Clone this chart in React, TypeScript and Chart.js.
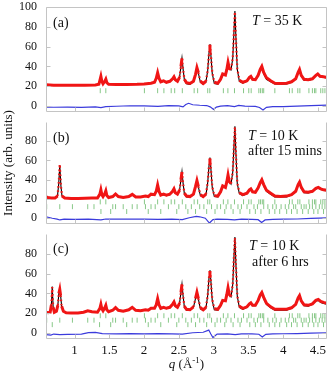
import React, { useEffect, useRef } from "react";
import { Chart, registerables } from "chart.js";

Chart.register(...registerables);

const FONT = '"Liberation Serif", "Times New Roman", Times, serif';

// ---- axes ----
const qRange = [0.59, 4.63];
const yRange = [-6, 100];
const qTickValues = [1, 1.5, 2, 2.5, 3, 3.5, 4, 4.5];
const yTickValuesA = [0, 20, 40, 60, 80, 100];
const yTickValuesBC = [0, 20, 40, 60, 80];

// ---- panel (a) T = 35 K ----
const qA = [
  0.59, 0.7, 0.85, 1.0, 1.15, 1.3, 1.35, 1.365, 1.379, 1.393,
  1.41, 1.435, 1.45, 1.465, 1.49, 1.6, 1.75, 1.9, 2.0, 2.1,
  2.15, 2.175, 2.195, 2.215, 2.24, 2.28, 2.32, 2.37, 2.41, 2.43,
  2.45, 2.48, 2.51, 2.53, 2.545, 2.56, 2.58, 2.61, 2.66, 2.71,
  2.74, 2.76, 2.78, 2.81, 2.85, 2.89, 2.915, 2.935, 2.947, 2.96,
  2.98, 3.01, 3.06, 3.1, 3.13, 3.17, 3.19, 3.207, 3.225, 3.25,
  3.275, 3.292, 3.306, 3.32, 3.34, 3.37, 3.42, 3.48, 3.515, 3.535,
  3.56, 3.6, 3.64, 3.67, 3.693, 3.72, 3.76, 3.82, 3.88, 3.96,
  4.05, 4.12, 4.18, 4.215, 4.235, 4.26, 4.3, 4.36, 4.42, 4.47,
  4.497, 4.53, 4.58, 4.63,
];
const obsA = [
  21.5, 21, 21, 21, 21, 21.3, 22, 26, 30, 25,
  22.5, 25, 27.2, 23.5, 22, 21.8, 21.8, 22, 22.3, 23,
  24, 28, 33.7, 28, 24.5, 25.5, 24, 25, 27.5, 29.5,
  26.5, 25, 29, 40, 48, 38, 27, 23.5, 22.8, 25,
  32, 38.8, 34, 25, 22.8, 25, 36, 55, 61.8, 52,
  34, 24, 23, 27, 32.4, 31.4, 37, 44, 38, 37,
  48, 75, 95, 70, 38, 26, 24, 25.5, 29, 30,
  27, 26.6, 31, 37, 40, 34, 28.5, 25.5, 23, 22.8,
  23, 24.5, 27.5, 34, 37, 31, 27, 26.5, 27.5, 31,
  32.4, 30, 29.5, 28.8,
];
const calcA = [
  21.5, 21, 21, 21, 21, 21.3, 22, 26, 30, 25,
  22.5, 25, 27.2, 23.5, 22, 21.8, 21.8, 22, 22.3, 23,
  24, 28, 34, 28, 24, 25, 23.5, 24.5, 27.5, 29.5,
  26, 24.5, 29, 40, 48.5, 38, 26, 22.5, 21.8, 24.5,
  32, 39, 33.5, 24, 22, 24.5, 36, 55, 62.5, 52,
  33, 22.8, 22.2, 26.5, 32, 31, 37, 44, 38, 36.5,
  48, 75, 96, 70, 37, 25, 23.2, 25, 29, 30,
  26.5, 26, 30.5, 37, 40.5, 32.5, 27, 24.5, 22.2, 22,
  22.2, 24, 27.5, 34, 37, 30, 26.2, 25.8, 27, 31,
  32, 29.5, 28.8, 28.5,
];
const qDiffA = [0.59, 0.7, 0.9, 1.1, 1.3, 1.38, 1.45, 1.6, 1.8, 2.0, 2.2, 2.35, 2.5, 2.56, 2.6, 2.64, 2.7, 2.8, 2.9, 2.95, 3.0, 3.04, 3.1, 3.2, 3.3, 3.36, 3.45, 3.6, 3.66, 3.71, 3.76, 3.85, 4.0, 4.2, 4.4, 4.63];
const diffA = [-1, -1.2, -1, -1.3, -0.8, -1.5, -0.5, -0.2, 0.3, 0.2, -0.3, 0.5, 0.2, -0.8, 1.5, 2.8, 1.3, 0.8, 0.5, -0.8, -3.5, -1, 0, 0.5, -0.6, 0.6, 0, -0.4, -1.5, -4, -1.3, -0.5, -0.6, 0, 0.5, 1];

// ---- panel (b) T = 10 K after 15 mins ----
const qB = [
  0.59, 0.62, 0.66, 0.72, 0.755, 0.772, 0.788, 0.804, 0.82, 0.86,
  0.95, 1.05, 1.15, 1.25, 1.33, 1.365, 1.379, 1.393, 1.41, 1.435,
  1.45, 1.465, 1.49, 1.55, 1.59, 1.63, 1.7, 1.78, 1.83, 1.88,
  1.95, 2.02, 2.06, 2.1, 2.15, 2.175, 2.195, 2.215, 2.24, 2.28,
  2.32, 2.37, 2.41, 2.43, 2.45, 2.48, 2.51, 2.53, 2.545, 2.56,
  2.58, 2.61, 2.66, 2.71, 2.74, 2.76, 2.78, 2.81, 2.85, 2.89,
  2.915, 2.935, 2.947, 2.96, 2.98, 3.01, 3.06, 3.1, 3.13, 3.17,
  3.19, 3.207, 3.225, 3.25, 3.275, 3.292, 3.306, 3.32, 3.34, 3.37,
  3.42, 3.48, 3.515, 3.535, 3.56, 3.6, 3.64, 3.67, 3.693, 3.72,
  3.76, 3.82, 3.88, 3.96, 4.05, 4.12, 4.18, 4.215, 4.235, 4.26,
  4.3, 4.36, 4.42, 4.47, 4.505, 4.54, 4.58, 4.63,
];
const obsB = [
  22, 21.5, 21, 21, 23, 35, 56, 34, 23, 21,
  20.5, 20.5, 20.7, 21, 21, 25, 29.5, 24.5, 22.5, 25.5,
  28.5, 23.5, 21.5, 22.5, 25.2, 22.5, 21.5, 22.5, 24.8, 22,
  22, 23, 22.5, 25, 24.5, 28, 34.6, 28, 24, 25,
  24, 25, 28, 30.5, 26.5, 25, 29, 40, 48, 37,
  26, 23, 22.5, 25, 33, 39, 33, 24.5, 22.5, 25,
  37, 56, 62, 52, 33, 23.5, 23, 27.5, 33.6, 32,
  38, 45, 38, 36, 48, 75, 94.6, 68, 37, 26.5,
  24.5, 26, 29.5, 30.5, 27.5, 27, 31.5, 37, 40, 35,
  29, 26, 23, 22.5, 23, 24.5, 28, 35, 37.5, 32,
  27.5, 27, 28, 31, 32, 30.5, 29.5, 29,
];
const calcB = [
  22, 21.5, 21, 21, 23, 35, 55, 34, 23, 21,
  20.5, 20.5, 20.7, 21, 21, 25, 29.5, 24.5, 22.5, 25.5,
  28.5, 23.5, 21.5, 22.5, 25.2, 22.5, 21.5, 22.5, 24.8, 22,
  22, 23, 22.5, 25, 24.5, 28, 34.6, 28, 23.5, 24.5,
  23.5, 24.5, 28, 30.5, 26, 24.5, 29, 40, 48.5, 37,
  25, 22, 21.8, 24.5, 33, 39.5, 32.5, 23.5, 22, 24.5,
  37, 56, 63, 52, 32, 22.5, 22.2, 27, 33.6, 31.5,
  38, 45.5, 38, 35.5, 48, 75, 95.5, 68, 36, 25.5,
  23.5, 25.5, 29.5, 30.5, 27, 26.5, 31, 37, 40.5, 33.5,
  28, 25, 22.2, 22, 22.2, 24, 28, 35, 38, 31,
  26.5, 26.2, 27.5, 30.5, 31.5, 30, 28.8, 28.5,
];
const qDiffB = [0.59, 0.62, 0.68, 0.75, 0.79, 0.85, 1.0, 1.2, 1.38, 1.45, 1.6, 1.8, 2.0, 2.2, 2.4, 2.55, 2.65, 2.75, 2.8, 2.88, 2.94, 2.99, 3.05, 3.2, 3.3, 3.4, 3.55, 3.64, 3.69, 3.74, 3.85, 4.0, 4.2, 4.4, 4.63];
const diffB = [1.5, 1, 0, -1, -1.8, -1, -1.2, -1, -1.8, -0.8, -1, -0.8, -1, -1.2, -1, -1.5, 0.5, 1.9, 1.5, 0, -5, -1.5, -1, -1.2, -1.8, -1, -1.2, -1.5, -4.5, -1.8, -1.2, -1, -0.8, -0.2, 0.3];

// ---- panel (c) T = 10 K after 6 hrs ----
const qC = [
  0.59, 0.62, 0.65, 0.667, 0.68, 0.693, 0.71, 0.74, 0.76, 0.775,
  0.788, 0.8, 0.815, 0.84, 0.88, 0.95, 1.05, 1.13, 1.19, 1.25,
  1.33, 1.365, 1.379, 1.393, 1.41, 1.435, 1.45, 1.465, 1.49, 1.55,
  1.59, 1.63, 1.7, 1.78, 1.83, 1.88, 1.95, 2.02, 2.06, 2.1,
  2.15, 2.175, 2.195, 2.215, 2.24, 2.28, 2.32, 2.37, 2.41, 2.43,
  2.45, 2.48, 2.51, 2.53, 2.545, 2.56, 2.58, 2.61, 2.66, 2.71,
  2.74, 2.76, 2.78, 2.81, 2.85, 2.89, 2.915, 2.935, 2.947, 2.96,
  2.98, 3.01, 3.06, 3.1, 3.13, 3.17, 3.19, 3.207, 3.225, 3.25,
  3.275, 3.292, 3.306, 3.32, 3.34, 3.37, 3.42, 3.48, 3.515, 3.535,
  3.56, 3.6, 3.64, 3.67, 3.693, 3.72, 3.76, 3.82, 3.88, 3.96,
  4.05, 4.12, 4.18, 4.215, 4.235, 4.26, 4.3, 4.36, 4.42, 4.47,
  4.505, 4.54, 4.58, 4.63,
];
const obsC = [
  21, 20.5, 21, 28, 46.4, 26, 21, 22, 28, 40,
  44, 38, 27, 22, 20.5, 20.3, 20.3, 21, 22.5, 21.5,
  21, 25, 29, 24.5, 22.5, 25.5, 28, 23.5, 21.5, 23,
  25.7, 23, 22, 23.5, 26, 23, 22.5, 23.5, 23, 25,
  25, 28.5, 34.6, 28.5, 25, 26, 25, 26, 29, 31.4,
  27.5, 26, 30, 41, 49, 38, 27, 24, 23.5, 26.5,
  35, 41, 35, 25.5, 23.5, 26, 38, 57, 62.6, 53,
  34, 24.5, 24, 28, 33, 32.5, 39, 45.7, 39, 37,
  49, 77, 96, 70, 38, 27, 25, 26.5, 29.5, 30.5,
  28, 28, 33, 38.5, 41, 36, 30, 26.5, 24, 24,
  24, 25.5, 29, 35.5, 37.8, 32.5, 28.5, 28, 29.5, 33,
  34, 32, 31, 30,
];
const calcC = [
  21, 20.5, 21, 28, 47, 26, 21, 22, 28, 40,
  44.5, 38, 27, 22, 20.5, 20.3, 20.3, 21, 22.5, 21.5,
  21, 25, 29, 24.5, 22.5, 25.5, 28, 23.5, 21.5, 23,
  25.7, 23, 22, 23.5, 26, 23, 22.5, 23.5, 23, 25,
  25, 28.5, 34.6, 28.5, 24.5, 25.5, 24.5, 25.5, 29, 31.4,
  27, 25.5, 30, 41, 49.5, 38, 26, 23, 22.8, 26,
  35, 41.5, 34.5, 24.5, 23, 25.5, 38, 57, 63.5, 53,
  33, 23.5, 23.2, 27.5, 33, 32, 39, 46, 39, 36.5,
  49, 77, 97, 70, 37, 26, 24, 26, 29.5, 30.5,
  27.5, 27.5, 32.5, 38.5, 41.5, 34.5, 29, 25.5, 23.2, 23.2,
  23.2, 25, 29, 35.5, 38.5, 31.5, 27.5, 27.2, 29, 32.5,
  33, 30.8, 29.8, 29,
];
const qDiffC = [0.59, 0.66, 0.7, 0.79, 0.9, 1.1, 1.2, 1.3, 1.4, 1.6, 1.8, 2.0, 2.2, 2.4, 2.55, 2.7, 2.85, 2.93, 2.96, 2.99, 3.05, 3.2, 3.31, 3.4, 3.55, 3.65, 3.7, 3.75, 3.85, 4.0, 4.2, 4.4, 4.63];
const diffC = [-1.5, -2, -1, -1.5, -1.3, -1, 0.5, 0.7, -0.5, -0.8, -0.5, -0.8, -0.5, -0.8, -1, 0.3, 0.8, 3, -1, -4.5, -1, -0.8, -1.5, -0.8, -0.8, -1.2, -4, -1.3, -0.8, -0.7, -0.5, 0, 0.3];

// ---- Bragg reflection positions ----
const braggMain = [1.37, 1.45, 2.005, 2.195, 2.285, 2.39, 2.44, 2.55, 2.72, 2.77, 2.915, 2.945, 3.14, 3.205, 3.3, 3.43, 3.505, 3.54, 3.65, 3.675, 3.7, 3.72, 3.88, 4.09, 4.13, 4.21, 4.24, 4.37, 4.42, 4.45, 4.47, 4.54, 4.57, 4.6];
const braggPhase2 = [0.6, 0.788, 0.97, 1.19, 1.28, 1.55, 1.59, 1.7, 1.83, 1.9, 2.02, 2.1, 2.16, 2.35, 2.5, 2.6, 2.68, 2.8, 2.86, 2.97, 3.05, 3.1, 3.18, 3.25, 3.35, 3.4, 3.48, 3.58, 3.63, 3.72, 3.78, 3.85, 3.9, 3.97, 4.03, 4.08, 4.15, 4.18, 4.26, 4.3, 4.33, 4.38, 4.42, 4.47, 4.52, 4.56, 4.6];
const braggPhase3B = [1.38, 1.52, 1.75, 2.06, 2.24, 2.47, 2.63, 2.74, 2.9, 3.02, 3.16, 3.28, 3.38, 3.52, 3.6, 3.68, 3.8, 3.88, 3.95, 4.05, 4.12, 4.2, 4.28, 4.36, 4.44, 4.5, 4.58];
const braggPhase3C = [0.68, 1.36, 1.52, 1.75, 2.06, 2.24, 2.47, 2.63, 2.74, 2.9, 3.02, 3.16, 3.28, 3.38, 3.52, 3.6, 3.68, 3.8, 3.88, 3.95, 4.05, 4.12, 4.2, 4.28, 4.36, 4.44, 4.5, 4.58];

// ---- text ----
const panelLetters = ["(a)", "(b)", "(c)"];
const tempText = [" = 35 K", " = 10 K", " = 10 K"];
const timeText = ["", "after 15 mins", "after 6 hrs"];
const yTitle = "Intensity (arb. units)";

const RED = "#f01515";
const BLACK = "#000000";
const BLUE = "#3b3bdc";
const GREEN = "rgba(115,190,115,0.85)";
const FRAME = "#c4c4c4";
const TEXT = "#111111";

type Part = { text: string; italic?: boolean; size?: number; dy?: number };
type Label = { parts: Part[]; dx: number; dy: number };
type PanelCfg = {
  q: number[]; obs: number[]; calc: number[];
  qDiff: number[]; diff: number[];
  bragg: { q: number[]; y: number }[];
  yTicks: number[];
  padTop: number; height: number; top: number; xAxis: boolean; drawTop: boolean;
  labels: Label[];
};

const panels: PanelCfg[] = [
  {
    q: qA, obs: obsA, calc: calcA, qDiff: qDiffA, diff: diffA,
    bragg: [{ q: braggMain, y: 15.5 }],
    yTicks: yTickValuesA, padTop: 7, height: 117, top: 0, xAxis: false, drawTop: true,
    labels: [
      { parts: [{ text: panelLetters[0] }], dx: 7, dy: 20 },
      { parts: [{ text: "T", italic: true }, { text: tempText[0] }], dx: 206, dy: 18 },
    ],
  },
  {
    q: qB, obs: obsB, calc: calcB, qDiff: qDiffB, diff: diffB,
    bragg: [{ q: braggMain, y: 17 }, { q: braggPhase2, y: 12 }, { q: braggPhase3B, y: 7 }],
    yTicks: yTickValuesBC, padTop: 0, height: 112, top: 117, xAxis: false, drawTop: false,
    labels: [
      { parts: [{ text: panelLetters[1] }], dx: 7, dy: 20 },
      { parts: [{ text: "T", italic: true }, { text: tempText[1] }], dx: 202, dy: 18 },
      { parts: [{ text: timeText[1] }], dx: 202, dy: 33 },
    ],
  },
  {
    q: qC, obs: obsC, calc: calcC, qDiff: qDiffC, diff: diffC,
    bragg: [{ q: braggMain, y: 17.5 }, { q: braggPhase2, y: 13 }, { q: braggPhase3C, y: 8.5 }],
    yTicks: yTickValuesBC, padTop: 0, height: 142, top: 229, xAxis: true, drawTop: false,
    labels: [
      { parts: [{ text: panelLetters[2] }], dx: 7, dy: 19 },
      { parts: [{ text: "T", italic: true }, { text: tempText[2] }], dx: 203, dy: 16 },
      { parts: [{ text: timeText[2] }], dx: 206, dy: 32 },
    ],
  },
];

function toXY(xs: number[], ys: number[]) {
  const n = Math.min(xs.length, ys.length);
  const out: { x: number; y: number }[] = [];
  for (let i = 0; i < n; i++) out.push({ x: xs[i], y: ys[i] });
  return out;
}

function isSteep(ctx: any) {
  const dx = Math.abs(ctx.p1.x - ctx.p0.x);
  const dy = Math.abs(ctx.p1.y - ctx.p0.y);
  return dy > 8 && dy > 2.5 * dx;
}

function fontOf(p: Part) {
  return `${p.italic ? "italic " : ""}${p.size ?? 14}px ${FONT}`;
}

function partsWidth(ctx: CanvasRenderingContext2D, parts: Part[]) {
  let w = 0;
  for (const p of parts) {
    ctx.font = fontOf(p);
    w += ctx.measureText(p.text).width;
  }
  return w;
}

function drawParts(ctx: CanvasRenderingContext2D, parts: Part[], x: number, y: number) {
  let cx = x;
  for (const p of parts) {
    ctx.font = fontOf(p);
    ctx.fillText(p.text, cx, y + (p.dy ?? 0));
    cx += ctx.measureText(p.text).width;
  }
}

const xTitleParts: Part[] = [
  { text: "q", italic: true, size: 13 },
  { text: " (Å", size: 13 },
  { text: "-1", size: 9, dy: -5 },
  { text: ")", size: 13 },
];

function framePlugin(p: PanelCfg) {
  return {
    id: "frame",
    afterDraw(chart: any) {
      const { ctx, chartArea: a, scales } = chart;
      const xs = scales.x;
      const ys = scales.y;
      ctx.save();
      ctx.strokeStyle = FRAME;
      ctx.lineWidth = 1;
      ctx.beginPath();
      const L = a.left + 0.5, R = a.right - 0.5, T = a.top + 0.5, B = a.bottom - 0.5;
      ctx.moveTo(L, T);
      ctx.lineTo(L, B);
      ctx.lineTo(R, B);
      ctx.lineTo(R, T);
      if (p.drawTop) ctx.lineTo(L, T);
      for (const v of qTickValues) {
        const px = Math.round(xs.getPixelForValue(v)) + 0.5;
        ctx.moveTo(px, B);
        ctx.lineTo(px, B - 4);
      }
      for (const v of p.yTicks) {
        const py = Math.round(ys.getPixelForValue(v)) + 0.5;
        ctx.moveTo(L, py);
        ctx.lineTo(L + 4, py);
        ctx.moveTo(R, py);
        ctx.lineTo(R - 4, py);
      }
      ctx.stroke();

      ctx.fillStyle = TEXT;
      ctx.textBaseline = "alphabetic";
      ctx.textAlign = "left";
      for (const lab of p.labels) {
        drawParts(ctx, lab.parts, a.left + lab.dx, a.top + lab.dy);
      }
      if (p.xAxis) {
        const w = partsWidth(ctx, xTitleParts);
        drawParts(ctx, xTitleParts, (a.left + a.right) / 2 - w / 2, a.bottom + 29);
      }
      ctx.restore();
    },
  };
}

function makeChart(canvas: HTMLCanvasElement, p: PanelCfg) {
  const braggSets = p.bragg.map((row) => ({
    data: row.q.map((q) => ({ x: q, y: row.y })),
    showLine: false,
    pointStyle: "line",
    pointRotation: 90,
    pointRadius: 2.5,
    pointBorderWidth: 1,
    pointBorderColor: GREEN,
    pointBackgroundColor: GREEN,
  }));
  return new Chart(canvas, {
    type: "scatter",
    data: {
      datasets: [
        {
          data: toXY(p.q, p.obs),
          showLine: true,
          borderColor: RED,
          borderWidth: 3,
          pointRadius: 0,
          segment: {
            borderDash: (ctx: any) => (isSteep(ctx) ? [1.6, 2.6] : undefined),
            borderWidth: (ctx: any) => (isSteep(ctx) ? 2.2 : undefined),
          },
        },
        {
          data: toXY(p.q, p.calc),
          showLine: true,
          borderColor: BLACK,
          borderWidth: 1.1,
          pointRadius: 0,
        },
        {
          data: toXY(p.qDiff, p.diff),
          showLine: true,
          borderColor: BLUE,
          borderWidth: 1.2,
          pointRadius: 0,
        },
        ...braggSets,
      ] as any,
    },
    options: {
      responsive: false,
      animation: false,
      devicePixelRatio: 1,
      events: [],
      layout: { padding: { top: p.padTop, right: 1, left: 0, bottom: 0 } },
      plugins: { legend: { display: false }, tooltip: { enabled: false } },
      scales: {
        x: {
          type: "linear",
          min: qRange[0],
          max: qRange[1],
          display: p.xAxis,
          position: "bottom",
          grid: { display: false, drawTicks: false },
          border: { display: false },
          ticks: {
            autoSkip: false,
            maxRotation: 0,
            padding: 4,
            color: TEXT,
            font: { family: FONT, size: 13 },
            callback: (v: any) => String(v),
          },
          afterBuildTicks: (s: any) => {
            s.ticks = qTickValues.map((v) => ({ value: v }));
          },
          afterFit: (s: any) => {
            s.height = p.xAxis ? 32 : 0;
            s.paddingLeft = 0;
            s.paddingRight = 0;
            s.paddingTop = 0;
            s.paddingBottom = 0;
          },
        },
        y: {
          type: "linear",
          min: yRange[0],
          max: yRange[1],
          grid: { display: false, drawTicks: false },
          border: { display: false },
          ticks: {
            autoSkip: false,
            padding: 9,
            color: TEXT,
            font: { family: FONT, size: 12 },
            callback: (v: any) => String(v),
          },
          afterBuildTicks: (s: any) => {
            s.ticks = p.yTicks.map((v) => ({ value: v }));
          },
          afterFit: (s: any) => {
            s.width = 46;
            s.paddingTop = 0;
            s.paddingBottom = 0;
            s.paddingLeft = 0;
            s.paddingRight = 0;
          },
        },
      },
    } as any,
    plugins: [framePlugin(p)],
  });
}

export default function App() {
  const refA = useRef<HTMLCanvasElement>(null);
  const refB = useRef<HTMLCanvasElement>(null);
  const refC = useRef<HTMLCanvasElement>(null);

  useEffect(() => {
    const refs = [refA, refB, refC];
    const charts = panels.map((p, i) => makeChart(refs[i].current as HTMLCanvasElement, p));
    return () => charts.forEach((c) => c.destroy());
  }, []);

  const refs = [refA, refB, refC];
  return (
    <div
      style={{
        position: "absolute",
        left: 0,
        top: 0,
        width: 332,
        height: 371,
        background: "#ffffff",
        overflow: "hidden",
      }}
    >
      {panels.map((p, i) => (
        <canvas
          key={i}
          ref={refs[i]}
          width={332}
          height={p.height}
          style={{ position: "absolute", left: 0, top: p.top, width: 332, height: p.height }}
        />
      ))}
      <div
        style={{
          position: "absolute",
          left: 8 - 75,
          top: 163 - 8,
          width: 150,
          height: 16,
          lineHeight: "16px",
          textAlign: "center",
          transform: "rotate(-90deg)",
          transformOrigin: "center",
          font: `13px ${FONT}`,
          color: TEXT,
          whiteSpace: "nowrap",
        }}
      >
        {yTitle}
      </div>
    </div>
  );
}
